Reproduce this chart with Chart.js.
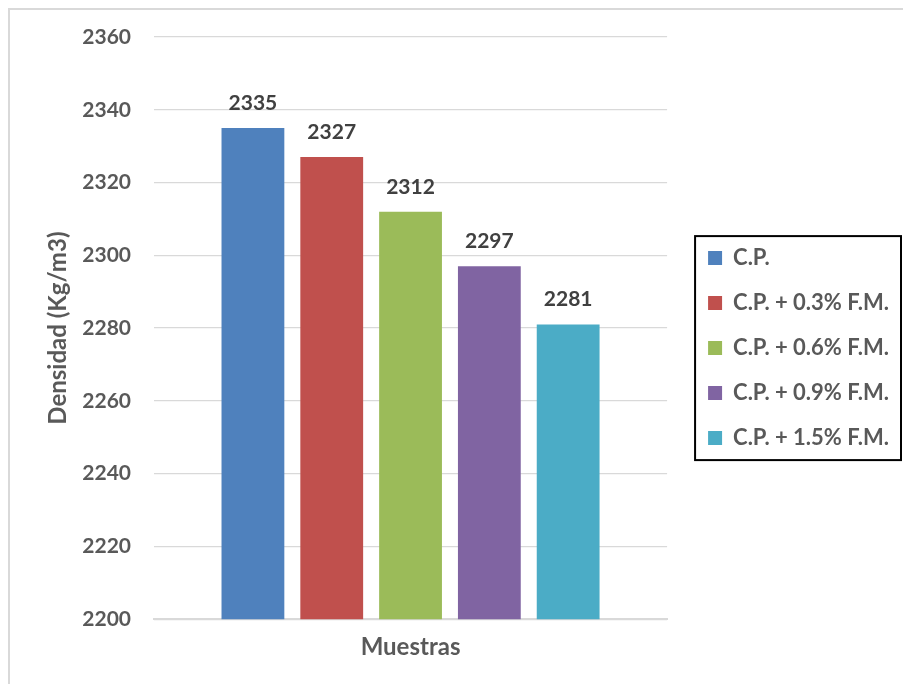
<!DOCTYPE html>
<html>
<head>
<meta charset="utf-8">
<script src="https://cdn.jsdelivr.net/npm/chart.js@4.4.1/dist/chart.umd.min.js"></script>
<style>
  body { margin: 0; background: #fff; }
  #wrap { width: 903px; height: 684px; position: relative; }
</style>
</head>
<body>
<div id="wrap"><canvas id="densidadChart"></canvas></div>
<script>
// datos de la grafica
var categories = ["Muestras"];
var seriesNames = ["C.P.", "C.P. + 0.3% F.M.", "C.P. + 0.6% F.M.", "C.P. + 0.9% F.M.", "C.P. + 1.5% F.M."];
var seriesValues = [2335, 2327, 2312, 2297, 2281];
var seriesColors = ["#4F81BD", "#C0504D", "#9BBB59", "#8064A2", "#4BACC6"];
var yTicks = [2200, 2220, 2240, 2260, 2280, 2300, 2320, 2340, 2360];

var fontFamily = "Lato, 'Open Sans', sans-serif";
var grey = "#595959";

// borde exterior del grafico
var outerBorder = {
  id: "outerBorder",
  beforeDraw: function (chart) {
    var ctx = chart.ctx;
    ctx.save();
    ctx.fillStyle = "#fff";
    ctx.fillRect(0, 0, chart.width, chart.height);
    ctx.strokeStyle = "#d9d9d9";
    ctx.lineWidth = 2;
    ctx.beginPath();
    ctx.moveTo(9, chart.height);
    ctx.lineTo(9, 9);
    ctx.lineTo(chart.width, 9);
    ctx.stroke();
    ctx.restore();
  },
};

// etiquetas de valor encima de cada barra
var valueLabels = {
  id: "valueLabels",
  afterDatasetsDraw: function (chart) {
    var ctx = chart.ctx;
    ctx.save();
    ctx.font = "bold 21px " + fontFamily;
    ctx.fillStyle = "#404040";
    ctx.textAlign = "center";
    ctx.textBaseline = "alphabetic";
    chart.data.datasets.forEach(function (ds, i) {
      chart.getDatasetMeta(i).data.forEach(function (bar, j) {
        ctx.fillText(ds.data[j], bar.x, bar.y - 18);
      });
    });
    ctx.restore();
  },
};

// la leyenda no debe quedar limitada por el ancho maximo de las cajas laterales
var legendWidthFix = {
  id: "legendWidthFix",
  beforeLayout: function (chart) {
    var lg = chart.legend;
    if (lg && !lg._widthFixed) {
      var fit = lg.fit;
      lg.fit = function () {
        this.maxWidth = Math.max(this.maxWidth, 400);
        fit.call(this);
      };
      lg._widthFixed = true;
    }
  },
};

// marco negro alrededor de la leyenda
var legendFrame = {
  id: "legendFrame",
  afterDraw: function (chart) {
    var lg = chart.legend;
    if (!lg || !lg.legendHitBoxes.length) return;
    var boxes = lg.legendHitBoxes;
    var first = boxes[0];
    var last = boxes[boxes.length - 1];
    var maxW = Math.max.apply(null, boxes.map(function (b) { return b.width; }));
    var ctx = chart.ctx;
    ctx.save();
    ctx.strokeStyle = "#000";
    ctx.lineWidth = 2;
    ctx.strokeRect(first.left - 13, first.top - 11, maxW + 25, last.top + last.height - first.top + 22);
    ctx.restore();
  },
};

var datasets = seriesNames.map(function (name, i) {
  return {
    label: name,
    data: [seriesValues[i]],
    backgroundColor: seriesColors[i],
    borderWidth: 0,
    categoryPercentage: 0.768,
    barPercentage: 0.797,
  };
});

new Chart(document.getElementById("densidadChart"), {
  type: "bar",
  data: { labels: categories, datasets: datasets },
  options: {
    responsive: true,
    maintainAspectRatio: false,
    animation: false,
    layout: { padding: { top: 37, left: 8, right: 4, bottom: 16 } },
    scales: {
      x: {
        grid: { display: false },
        border: { color: "#d9d9d9", width: 2 },
        ticks: { color: grey, font: { family: fontFamily, size: 24, weight: "bold" }, padding: 6 },
      },
      y: {
        min: 2200,
        max: 2360,
        afterBuildTicks: function (scale) {
          scale.ticks = yTicks.map(function (v) { return { value: v }; });
        },
        afterFit: function (scale) {
          scale.width = 146;
        },
        grid: { color: "#d9d9d9", lineWidth: 1.3, drawTicks: false },
        border: { display: false },
        ticks: {
          color: grey,
          font: { family: fontFamily, size: 21, weight: "bold" },
          padding: 23,
          callback: function (v) { return String(v); },
        },
        title: {
          display: true,
          text: "Densidad (Kg/m3)",
          color: grey,
          font: { family: fontFamily, size: 24, weight: "bold" },
          padding: { top: 36, bottom: 0 },
        },
      },
      y2: {
        position: "right",
        display: true,
        grid: { display: false },
        border: { display: false },
        ticks: { display: false },
        afterFit: function (scale) {
          scale.width = 18;
        },
      },
    },
    plugins: {
      legend: {
        position: "right",
        fullSize: false,
        title: { display: true, text: "", font: { size: 10, lineHeight: 1 }, padding: 15 },
        labels: {
          boxWidth: 14,
          boxHeight: 14,
          padding: 23,
          color: grey,
          font: { family: fontFamily, size: 22, weight: "bold" },
        },
      },
      tooltip: { enabled: false },
    },
  },
  plugins: [outerBorder, legendWidthFix, valueLabels, legendFrame],
});
</script>
</body>
</html>
